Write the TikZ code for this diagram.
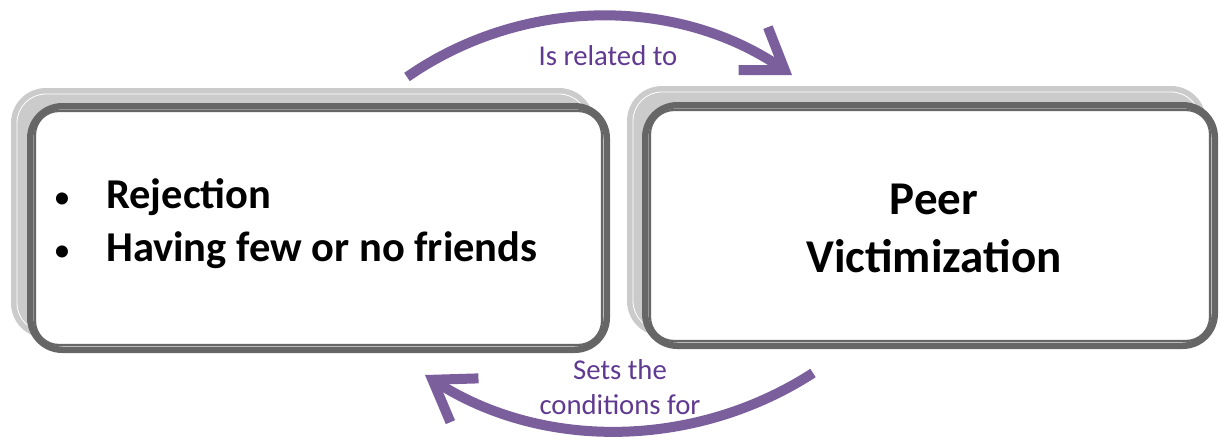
\documentclass[tikz,border=0pt]{standalone}
\usepackage{fontspec}
\setmainfont{Carlito}
\usetikzlibrary{arrows.meta,backgrounds,calc}
\definecolor{boxgray}{HTML}{666666}
\definecolor{shadowgray}{HTML}{CBCBCB}
\definecolor{arrowpurple}{HTML}{7B5F9C}
\definecolor{labelpurple}{HTML}{603A90}
\begin{document}
\begin{tikzpicture}[x=1pt,y=-1pt,
  mainbox/.style={draw=boxgray, line width=6.5pt, fill=white, rounded corners=32pt, inner sep=0pt},
  innerline/.style={draw=boxgray, line width=2.2pt, rounded corners=24pt},
  shadowbox/.style={fill=shadowgray, rounded corners=35pt},
  shadowline/.style={draw=white, line width=0.8pt, rounded corners=29pt},
  cyclearrow/.style={draw=arrowpurple, line width=10pt, -{Straight Barb[length=38pt,width=52pt]}},
  arrowlabel/.style={text=labelpurple, inner sep=0pt},
  boxtext/.style={inner sep=0pt, font=\bfseries}]
\useasboundingbox (0,0) rectangle (1220,439);

% shadows
\begin{scope}
  \fill[shadowbox] (11,88) rectangle (594,338);
  \draw[shadowline] (17,94) rectangle (588,332);
  \fill[shadowbox] (627,86) rectangle (1206,336);
  \draw[shadowline] (633,92) rectangle (1200,330);
\end{scope}

% boxes
\node[mainbox, minimum width=576.5pt, minimum height=243.5pt] (L) at (318.5,228) {};
\node[mainbox, minimum width=569.5pt, minimum height=240.5pt] (R) at (930,225.5) {};
\draw[innerline] ($(L.north west)+(8,8)$) rectangle ($(L.south east)+(-8,-8)$);
\draw[innerline] ($(R.north west)+(8,8)$) rectangle ($(R.south east)+(-8,-8)$);

% texts
\node[boxtext, anchor=base west, font=\fontsize{42.5}{53}\selectfont] (Ltext) at (57,208)
  {\begin{tabular}[t]{@{}l@{\hspace{39pt}}l@{}}
   \makebox[10pt]{\fontsize{34}{34}\selectfont\mdseries •} & \textbf{Rejection}\\
   \makebox[10pt]{\fontsize{34}{34}\selectfont\mdseries •} & \textbf{Having few or no friends}
   \end{tabular}};
\node[boxtext, align=center, font=\fontsize{47}{58}\selectfont\bfseries] (Rtext) at (934,228)
  {Peer\\Victimization};

% arrows
\coordinate (t1) at (407,77);
\coordinate (t2) at (792,75);
\coordinate (b1) at (813,373);
\coordinate (b2) at (425,375);
\draw[cyclearrow] (t1) .. controls (522,-3) and (676,-4) .. (t2);
\draw[cyclearrow] (b1) .. controls (695.5,449) and (543,450.6) .. (b2);

\node[arrowlabel, anchor=base, font=\fontsize{28.7}{32}\selectfont] (toplabel) at (608,65) {Is related to};
\node[arrowlabel, align=center, font=\fontsize{28.7}{35}\selectfont] (botlabel) at (620,387) {Sets the\\conditions for};
\end{tikzpicture}
\end{document}
